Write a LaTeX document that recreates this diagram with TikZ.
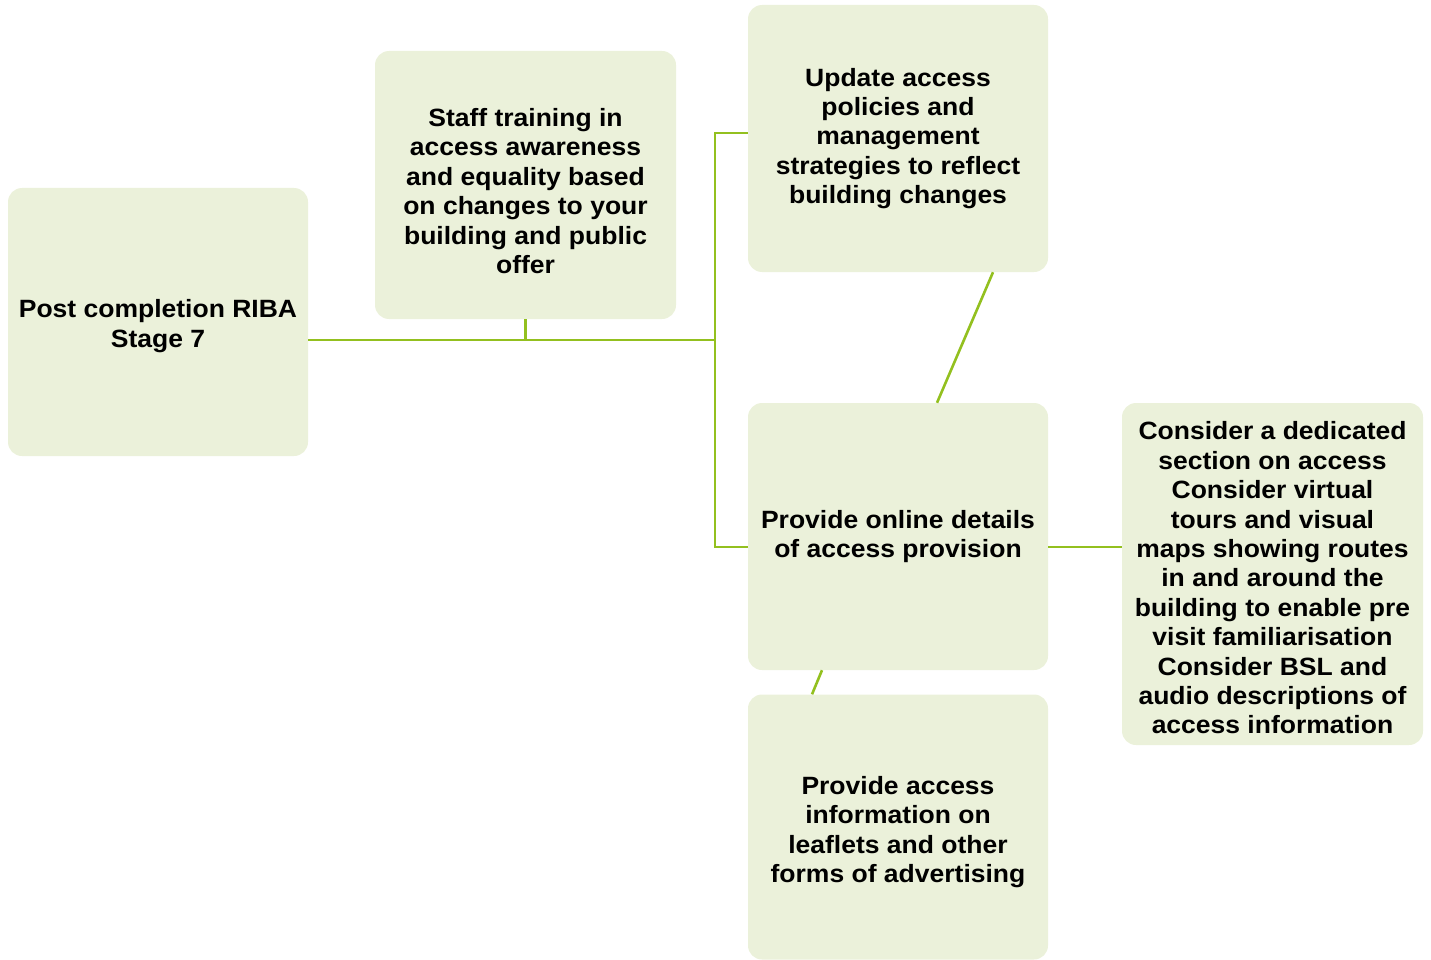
\documentclass[tikz,border=0pt]{standalone}
\usepackage{fontspec}
\setmainfont[FakeStretch=1.06]{Liberation Sans}
\definecolor{boxfill}{HTML}{EBF1DA}
\definecolor{linegreen}{HTML}{93C01F}
\begin{document}
\begin{tikzpicture}[x=1pt,y=-1pt,
  box/.style={fill=boxfill, draw=none, rounded corners=14pt, inner sep=0pt},
  txt/.style={align=center, font=\fontsize{25}{29.4}\selectfont\bfseries, inner sep=0pt},
  conn/.style={draw=linegreen, line width=2.6pt}]
\useasboundingbox (0,0) rectangle (1431,960);
\node[box, minimum width=300pt, minimum height=268pt] (A) at (158,322) {};
\node[box, minimum width=301pt, minimum height=268pt] (B) at (525.5,185) {};
\node[box, minimum width=300pt, minimum height=267pt] (C) at (898,138.5) {};
\node[box, minimum width=300pt, minimum height=267pt] (D) at (898,536.5) {};
\node[box, minimum width=301pt, minimum height=342pt] (E) at (1272.5,574) {};
\node[box, minimum width=300pt, minimum height=265pt] (F) at (898,827) {};
\node[txt] (At) at ([yshift=-4pt]A.center) {Post completion RIBA\\Stage 7};
\node[txt] (Bt) at ([yshift=-6pt]B.center) {Staff training in\\access awareness\\and equality based\\on changes to your\\building and public\\offer};
\node[txt] (Ct) at (C.center) {Update access\\policies and\\management\\strategies to reflect\\building changes};
\node[txt] (Dt) at (D.center) {Provide online details\\of access provision};
\node[txt] (Et) at ([yshift=-4pt]E.center) {Consider a dedicated\\section on access\\Consider virtual\\tours and visual\\maps showing routes\\in and around the\\building to enable pre\\visit familiarisation\\Consider BSL and\\audio descriptions of\\access information};
\node[txt] (Ft) at ([yshift=-5pt]F.center) {Provide access\\information on\\leaflets and other\\forms of advertising};
\coordinate (j) at (715,340);
\draw[conn] ([yshift=-18pt]A.east) -- (j);
\draw[conn] (B.south) -- (B.south |- j);
\draw[conn] ([yshift=5.5pt]C.west) -| (j) |- ([yshift=-10.5pt]D.west);
\draw[conn] ([xshift=95pt]C.south) -- ([xshift=39pt]D.north);
\draw[conn] ([xshift=-76pt]D.south) -- ([xshift=-86pt]F.north);
\draw[conn] ([yshift=-10.5pt]D.east) coordinate (d1) -- (d1 -| E.west);
\end{tikzpicture}
\end{document}
